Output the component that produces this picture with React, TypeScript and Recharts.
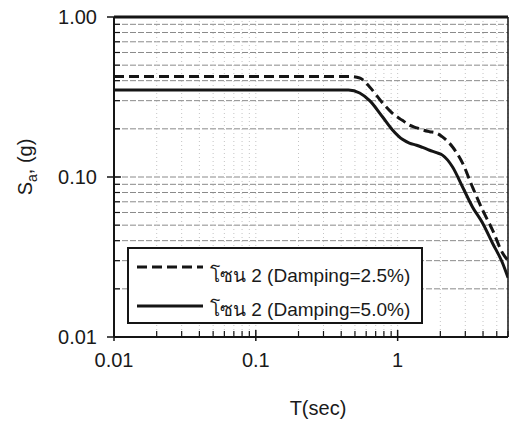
import React from "react";
import {
  LineChart,
  Line,
  XAxis,
  YAxis,
  CartesianGrid,
  ReferenceLine,
  Legend,
} from "recharts";

// Period T (sec)
const PERIOD = [
  0.01, 0.1, 0.45, 0.54, 0.635, 0.784, 0.92, 1.08, 1.21, 1.36, 1.5, 1.68, 1.88,
  2.07, 2.44, 2.87, 3.37, 3.97, 4.66, 5.49, 6.0,
];
// Zone 2, damping 2.5% (dashed)
const SA_DAMP_25 = [
  0.425, 0.425, 0.425, 0.416, 0.365, 0.29, 0.25, 0.226, 0.211, 0.203, 0.197,
  0.192, 0.188, 0.178, 0.154, 0.122, 0.0866, 0.0622, 0.0467, 0.0335, 0.03,
];
// Zone 2, damping 5.0% (solid)
const SA_DAMP_50 = [
  0.35, 0.35, 0.35, 0.335, 0.3, 0.237, 0.197, 0.172, 0.163, 0.158, 0.153,
  0.147, 0.142, 0.137, 0.1155, 0.0866, 0.065, 0.0516, 0.0387, 0.029, 0.0235,
];

const SERIES_NAMES = ["โซน 2 (Damping=2.5%)", "โซน 2 (Damping=5.0%)"];

const X_TICKS = [
  0.01, 0.02, 0.03, 0.04, 0.05, 0.06, 0.07, 0.08, 0.09, 0.1, 0.2, 0.3, 0.4,
  0.5, 0.6, 0.7, 0.8, 0.9, 1, 2, 3, 4, 5, 6,
];
const X_MAJOR = [0.01, 0.1, 1];
const X_MAJOR_LABELS = ["0.01", "0.1", "1"];

const Y_TICKS = [
  0.01, 0.02, 0.03, 0.04, 0.05, 0.06, 0.07, 0.08, 0.09, 0.1, 0.2, 0.3, 0.4,
  0.5, 0.6, 0.7, 0.8, 0.9, 1,
];
const Y_MAJOR = [0.01, 0.1, 1];
const Y_MAJOR_LABELS = ["0.01", "0.10", "1.00"];

const data = PERIOD.map((t, i) => ({
  t,
  d25: SA_DAMP_25[i],
  d50: SA_DAMP_50[i],
}));

const FONT = "'Liberation Sans', Arial, 'DejaVu Sans', 'Noto Sans', sans-serif";
const INK = "#151515";
const TEXT = "#1a1a1a";

const findMajor = (list: number[], v: number) =>
  list.findIndex((m) => Math.abs(m - v) < 1e-9);

const YTick = (props: any) => {
  const { x, y, payload } = props;
  const idx = findMajor(Y_MAJOR, payload.value);
  if (idx >= 0) {
    return (
      <g>
        <line x1={x - 7} x2={x + 7} y1={y} y2={y} stroke={INK} strokeWidth={1.5} />
        <text
          x={x - 17}
          y={y + 7}
          textAnchor="end"
          fontSize={20}
          fontFamily={FONT}
          fill={TEXT}
        >
          {Y_MAJOR_LABELS[idx]}
        </text>
      </g>
    );
  }
  return <line x1={x} x2={x + 6} y1={y} y2={y} stroke={INK} strokeWidth={1.2} />;
};

const XTick = (props: any) => {
  const { x, y, payload } = props;
  const idx = findMajor(X_MAJOR, payload.value);
  if (idx >= 0) {
    return (
      <g>
        <line x1={x} x2={x} y1={y - 7} y2={y + 4} stroke={INK} strokeWidth={1.5} />
        <text
          x={x}
          y={y + 30}
          textAnchor="middle"
          fontSize={20}
          fontFamily={FONT}
          fill={TEXT}
        >
          {X_MAJOR_LABELS[idx]}
        </text>
      </g>
    );
  }
  return <line x1={x} x2={x} y1={y - 6} y2={y} stroke={INK} strokeWidth={1.2} />;
};

const LegendBox = () => (
  <div
    style={{
      width: 296,
      height: 77,
      border: `2px solid ${INK}`,
      background: "#fff",
      boxSizing: "border-box",
      position: "relative",
    }}
  >
    <svg width={292} height={73} style={{ position: "absolute", left: 0, top: 0 }}>
      <line x1={8} x2={74} y1={18} y2={18} stroke={INK} strokeWidth={3} strokeDasharray="10 5" />
      <text x={81} y={33} fontSize={19} fontFamily={FONT} fill={TEXT}>
        {SERIES_NAMES[0]}
      </text>
      <line x1={8} x2={74} y1={57} y2={57} stroke={INK} strokeWidth={3} />
      <text x={81} y={67} fontSize={19} fontFamily={FONT} fill={TEXT}>
        {SERIES_NAMES[1]}
      </text>
    </svg>
  </div>
);

export default function App() {
  return (
    <div style={{ position: "absolute", left: 0, top: 0, background: "#fff" }}>
      <LineChart
        width={511}
        height={429}
        data={data}
        margin={{ top: 17, right: 3, bottom: 0, left: 0 }}
      >
        <CartesianGrid vertical={false} stroke="#8a8a8a" strokeDasharray="6 2" />
        <CartesianGrid horizontal={false} stroke="#c4c4c4" strokeDasharray="1 3" />
        <XAxis
          dataKey="t"
          type="number"
          scale="log"
          domain={[0.01, 6]}
          allowDataOverflow
          ticks={X_TICKS}
          interval={0}
          tickSize={0}
          tickMargin={0}
          tickLine={false}
          tick={XTick}
          height={92}
          axisLine={{ stroke: INK, strokeWidth: 2 }}
          label={{
            content: () => (
              <text
                x={318}
                y={415}
                textAnchor="middle"
                fontSize={20}
                fontFamily={FONT}
                fill={TEXT}
              >
                T(sec)
              </text>
            ),
          }}
        />
        <YAxis
          type="number"
          scale="log"
          domain={[0.01, 1]}
          allowDataOverflow
          ticks={Y_TICKS}
          interval={0}
          tickSize={0}
          tickMargin={0}
          tickLine={false}
          tick={YTick}
          width={114}
          axisLine={{ stroke: INK, strokeWidth: 2 }}
          label={{
            content: () => (
              <text
                transform="translate(32,167) rotate(-90)"
                textAnchor="middle"
                fontSize={20}
                fontFamily={FONT}
                fill={TEXT}
              >
                S
                <tspan fontSize={14} dy={5}>
                  a
                </tspan>
                <tspan dy={-5}>, (g)</tspan>
              </text>
            ),
          }}
        />
        <ReferenceLine y={1} stroke={INK} strokeWidth={3} />
        <ReferenceLine x={6} stroke={INK} strokeWidth={1.5} />
        <Line
          dataKey="d25"
          name={SERIES_NAMES[0]}
          type="monotone"
          stroke={INK}
          strokeWidth={3}
          strokeDasharray="10 5"
          dot={false}
          isAnimationActive={false}
        />
        <Line
          dataKey="d50"
          name={SERIES_NAMES[1]}
          type="monotone"
          stroke={INK}
          strokeWidth={3}
          dot={false}
          isAnimationActive={false}
        />
        <Legend
          layout="vertical"
          align="center"
          verticalAlign="middle"
          wrapperStyle={{ position: "absolute", left: 127, top: 247, width: 296, height: 77 }}
          content={() => <LegendBox />}
        />
      </LineChart>
    </div>
  );
}
